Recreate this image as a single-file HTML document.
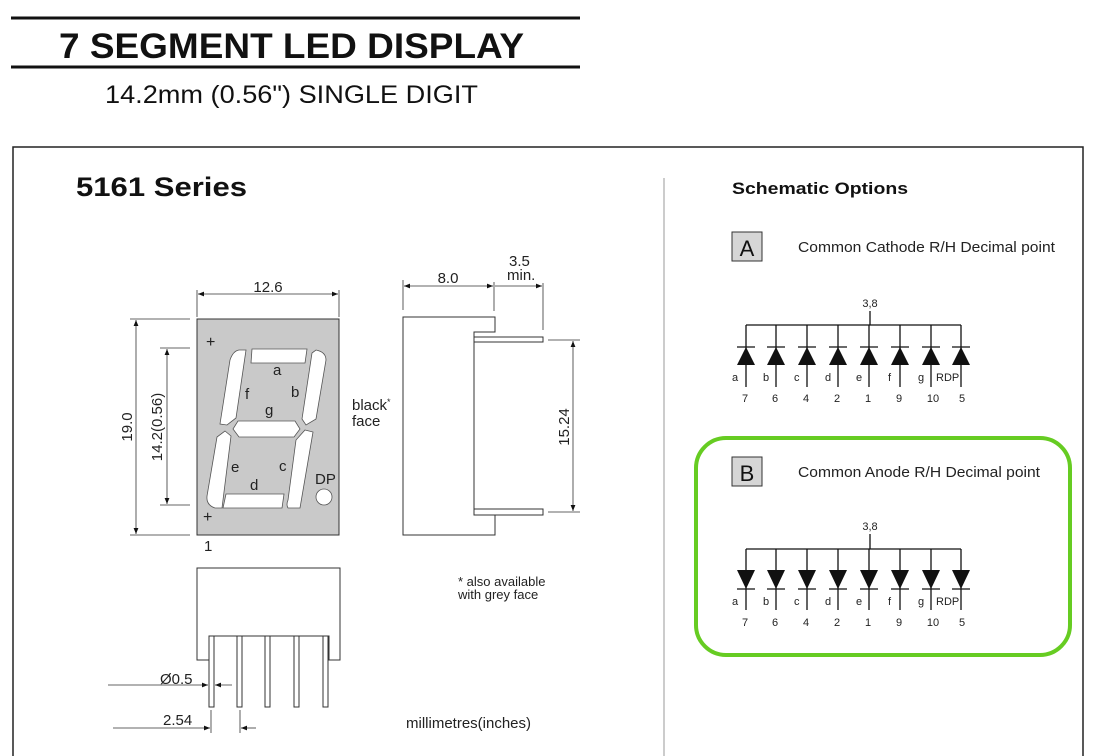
<!DOCTYPE html>
<html><head><meta charset="utf-8"><style>
html,body{margin:0;padding:0;background:#fff;}
svg{display:block;font-family:"Liberation Sans",sans-serif;}
</style></head><body>
<svg width="1096" height="756" viewBox="0 0 1096 756" xmlns="http://www.w3.org/2000/svg">
<defs>
<marker id="ar" viewBox="0 0 10 10" refX="10" refY="5" markerWidth="9" markerHeight="6" orient="auto-start-reverse" markerUnits="userSpaceOnUse"><path d="M0,1 L10,5 L0,9 Z" fill="#111"/></marker>
</defs>
<!-- header -->
<line x1="11" y1="18" x2="580" y2="18" stroke="#111" stroke-width="3"/>
<line x1="11" y1="67" x2="580" y2="67" stroke="#111" stroke-width="3"/>
<text x="59" y="58" font-size="35" font-weight="bold" fill="#111" textLength="465" lengthAdjust="spacingAndGlyphs">7 SEGMENT LED DISPLAY</text>
<text x="105" y="103" font-size="25" fill="#111" textLength="373" lengthAdjust="spacingAndGlyphs">14.2mm (0.56") SINGLE DIGIT</text>
<!-- frame -->
<polyline points="13,760 13,147 1083,147 1083,760" fill="none" stroke="#222" stroke-width="1.5"/>
<line x1="664" y1="178" x2="664" y2="756" stroke="#999" stroke-width="1"/>
<text x="76" y="196" font-size="27" font-weight="bold" fill="#111" textLength="171" lengthAdjust="spacingAndGlyphs">5161 Series</text>
<text x="732" y="194" font-size="17" font-weight="bold" fill="#111" textLength="176" lengthAdjust="spacingAndGlyphs">Schematic Options</text>

<!-- front view -->
<rect x="197" y="319" width="142" height="216" fill="#c9c9c9" stroke="#333" stroke-width="1"/>
<g fill="#fff" stroke="#555" stroke-width="0.8">
<polygon points="252,349 307,349 305,363 251,363"/>
<path d="M239,350 L246,350 L236,418 L227,425 L220,424 L230,360 Q233,351 239,350 Z"/>
<path d="M316,350 Q326,352 326,360 L316,419 L306,425 L302,419 L312,353 Z"/>
<polygon points="238,421 295,421 300,429 294,437 239,437 233,429"/>
<path d="M225,431 L231,436 L222,508 L215,508 Q206,505 207,496 L217,437 Z"/>
<path d="M305,430 L313,432 L300,508 L288,508 Q286,505 288,500 L296,440 Z"/>
<polygon points="226,494 284,494 282,508 223,508"/>
<circle cx="324" cy="497" r="8"/>
</g>
<g font-size="15" fill="#222">
<text x="273" y="375">a</text><text x="245" y="399">f</text><text x="291" y="397">b</text>
<text x="265" y="415">g</text><text x="231" y="472">e</text><text x="279" y="471">c</text>
<text x="250" y="490">d</text><text x="315" y="484">DP</text>
<text x="206" y="347" font-size="16">+</text><text x="203" y="522" font-size="16">+</text>
<text x="204" y="551">1</text>
</g>
<!-- front dims -->
<g stroke="#333" stroke-width="0.8" fill="none">
<line x1="197" y1="290" x2="197" y2="317"/><line x1="339" y1="290" x2="339" y2="317"/>
<line x1="198" y1="294" x2="338" y2="294" marker-start="url(#ar)" marker-end="url(#ar)"/>
<line x1="130" y1="319" x2="190" y2="319"/><line x1="130" y1="535" x2="190" y2="535"/>
<line x1="136" y1="320" x2="136" y2="534" marker-start="url(#ar)" marker-end="url(#ar)"/>
<line x1="160" y1="348" x2="190" y2="348"/><line x1="160" y1="505" x2="190" y2="505"/>
<line x1="167" y1="349" x2="167" y2="504" marker-start="url(#ar)" marker-end="url(#ar)"/>
</g>
<g font-size="15" fill="#222">
<text x="268" y="292" text-anchor="middle">12.6</text>
<text transform="translate(132,427) rotate(-90)" text-anchor="middle">19.0</text>
<text transform="translate(162,427) rotate(-90)" text-anchor="middle">14.2(0.56)</text>
<text x="352" y="410">black<tspan font-size="9" dy="-5">*</tspan></text>
<text x="352" y="426">face</text>
</g>
<!-- side view -->
<g stroke="#333" stroke-width="1" fill="#fff">
<polygon points="403,317 495,317 495,332 474,332 474,513 495,513 495,535 403,535"/>
<rect x="474" y="337" width="69" height="5"/>
<rect x="474" y="509" width="69" height="6"/>
</g>
<g stroke="#333" stroke-width="0.8" fill="none">
<line x1="403" y1="280" x2="403" y2="310"/><line x1="494" y1="282" x2="494" y2="311"/><line x1="543" y1="283" x2="543" y2="330"/>
<line x1="404" y1="286" x2="493" y2="286" marker-start="url(#ar)" marker-end="url(#ar)"/>
<line x1="495" y1="286" x2="542" y2="286" marker-end="url(#ar)"/>
<line x1="548" y1="340" x2="580" y2="340"/><line x1="548" y1="512" x2="580" y2="512"/>
<line x1="573" y1="341" x2="573" y2="511" marker-start="url(#ar)" marker-end="url(#ar)"/>
</g>
<g font-size="15" fill="#222">
<text x="448" y="283" text-anchor="middle">8.0</text>
<text x="509" y="266">3.5</text><text x="507" y="280">min.</text>
<text transform="translate(569,427) rotate(-90)" text-anchor="middle">15.24</text>
</g>
<!-- bottom view -->
<g stroke="#333" stroke-width="1" fill="#fff">
<polygon points="197,568 340,568 340,660 329,660 329,636 214,636 214,660 197,660"/>
<rect x="209" y="636" width="5" height="71"/>
<rect x="237" y="636" width="5" height="71"/>
<rect x="265" y="636" width="5" height="71"/>
<rect x="294" y="636" width="5" height="71"/>
<rect x="323" y="636" width="5" height="71"/>
</g>
<g stroke="#333" stroke-width="0.8" fill="none">
<line x1="108" y1="685" x2="208" y2="685" marker-end="url(#ar)"/>
<line x1="232" y1="685" x2="215" y2="685" marker-end="url(#ar)"/>
<line x1="211" y1="710" x2="211" y2="733"/><line x1="240" y1="710" x2="240" y2="733"/>
<line x1="113" y1="728" x2="210" y2="728" marker-end="url(#ar)"/>
<line x1="256" y1="728" x2="241" y2="728" marker-end="url(#ar)"/>
</g>
<g font-size="15" fill="#222">
<text x="160" y="684">Ø0.5</text>
<text x="163" y="725">2.54</text>
<text x="458" y="586" font-size="13">* also available</text>
<text x="458" y="599" font-size="13">with grey face</text>
<text x="406" y="728">millimetres(inches)</text>
</g>

<!-- Schematic A -->
<rect x="732" y="232" width="30" height="29" fill="#d6d6d6" stroke="#333"/>
<text x="747" y="256" font-size="22" text-anchor="middle" fill="#111">A</text>
<text x="798" y="252" font-size="15" fill="#222" textLength="257" lengthAdjust="spacingAndGlyphs">Common Cathode R/H Decimal point</text>
<text x="870" y="307" font-size="11" text-anchor="middle" fill="#222">3,8</text>
<g stroke="#111" stroke-width="1.3">
<line x1="870" y1="311" x2="870" y2="325"/>
<line x1="746" y1="325" x2="961" y2="325"/>
<line x1="746" y1="325" x2="746" y2="387"/><line x1="776" y1="325" x2="776" y2="387"/><line x1="807" y1="325" x2="807" y2="387"/><line x1="838" y1="325" x2="838" y2="387"/><line x1="869" y1="325" x2="869" y2="387"/><line x1="900" y1="325" x2="900" y2="387"/><line x1="931" y1="325" x2="931" y2="387"/><line x1="961" y1="325" x2="961" y2="387"/>
<line x1="737" y1="347" x2="755" y2="347"/><line x1="767" y1="347" x2="785" y2="347"/><line x1="798" y1="347" x2="816" y2="347"/><line x1="829" y1="347" x2="847" y2="347"/><line x1="860" y1="347" x2="878" y2="347"/><line x1="891" y1="347" x2="909" y2="347"/><line x1="922" y1="347" x2="940" y2="347"/><line x1="952" y1="347" x2="970" y2="347"/>
</g>
<g fill="#111">
<polygon points="746,347 737,365 755,365"/><polygon points="776,347 767,365 785,365"/><polygon points="807,347 798,365 816,365"/><polygon points="838,347 829,365 847,365"/><polygon points="869,347 860,365 878,365"/><polygon points="900,347 891,365 909,365"/><polygon points="931,347 922,365 940,365"/><polygon points="961,347 952,365 970,365"/>
</g>
<g font-size="11" fill="#222">
<text x="732" y="381">a</text><text x="763" y="381">b</text><text x="794" y="381">c</text><text x="825" y="381">d</text><text x="856" y="381">e</text><text x="888" y="381">f</text><text x="918" y="381">g</text><text x="936" y="381">RDP</text>
</g>
<g font-size="11" fill="#222" text-anchor="middle">
<text x="745" y="402">7</text><text x="775" y="402">6</text><text x="806" y="402">4</text><text x="837" y="402">2</text><text x="868" y="402">1</text><text x="899" y="402">9</text><text x="933" y="402">10</text><text x="962" y="402">5</text>
</g>

<!-- Schematic B -->
<rect x="696" y="438" width="374" height="217" rx="30" ry="30" fill="none" stroke="#66cc22" stroke-width="4"/>
<rect x="732" y="457" width="30" height="29" fill="#d6d6d6" stroke="#333"/>
<text x="747" y="481" font-size="22" text-anchor="middle" fill="#111">B</text>
<text x="798" y="477" font-size="15" fill="#222" textLength="242" lengthAdjust="spacingAndGlyphs">Common Anode R/H Decimal point</text>
<text x="870" y="530" font-size="11" text-anchor="middle" fill="#222">3,8</text>
<g stroke="#111" stroke-width="1.3">
<line x1="870" y1="534" x2="870" y2="549"/>
<line x1="746" y1="549" x2="961" y2="549"/>
<line x1="746" y1="549" x2="746" y2="610"/><line x1="776" y1="549" x2="776" y2="610"/><line x1="807" y1="549" x2="807" y2="610"/><line x1="838" y1="549" x2="838" y2="610"/><line x1="869" y1="549" x2="869" y2="610"/><line x1="900" y1="549" x2="900" y2="610"/><line x1="931" y1="549" x2="931" y2="610"/><line x1="961" y1="549" x2="961" y2="610"/>
<line x1="737" y1="589" x2="755" y2="589"/><line x1="767" y1="589" x2="785" y2="589"/><line x1="798" y1="589" x2="816" y2="589"/><line x1="829" y1="589" x2="847" y2="589"/><line x1="860" y1="589" x2="878" y2="589"/><line x1="891" y1="589" x2="909" y2="589"/><line x1="922" y1="589" x2="940" y2="589"/><line x1="952" y1="589" x2="970" y2="589"/>
</g>
<g fill="#111">
<polygon points="737,570 755,570 746,589"/><polygon points="767,570 785,570 776,589"/><polygon points="798,570 816,570 807,589"/><polygon points="829,570 847,570 838,589"/><polygon points="860,570 878,570 869,589"/><polygon points="891,570 909,570 900,589"/><polygon points="922,570 940,570 931,589"/><polygon points="952,570 970,570 961,589"/>
</g>
<g font-size="11" fill="#222">
<text x="732" y="605">a</text><text x="763" y="605">b</text><text x="794" y="605">c</text><text x="825" y="605">d</text><text x="856" y="605">e</text><text x="888" y="605">f</text><text x="918" y="605">g</text><text x="936" y="605">RDP</text>
</g>
<g font-size="11" fill="#222" text-anchor="middle">
<text x="745" y="626">7</text><text x="775" y="626">6</text><text x="806" y="626">4</text><text x="837" y="626">2</text><text x="868" y="626">1</text><text x="899" y="626">9</text><text x="933" y="626">10</text><text x="962" y="626">5</text>
</g>
</svg>
</body></html>
